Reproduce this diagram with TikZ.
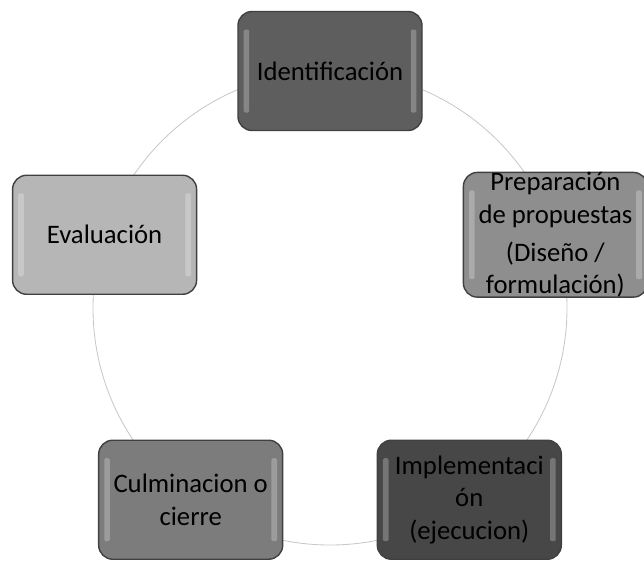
\documentclass[tikz,border=0pt]{standalone}
\usepackage{fontspec}
\setmainfont{Carlito}
\usepackage{tikz}
\usepackage{xcolor}
\usetikzlibrary{positioning}

\definecolor{grisIdent}{HTML}{5E5E5E}
\definecolor{grisPrep}{HTML}{8E8E8E}
\definecolor{grisEval}{HTML}{B6B6B6}
\definecolor{grisImpl}{HTML}{474747}
\definecolor{grisCulm}{HTML}{7C7C7C}
\definecolor{grisCirc}{HTML}{C8C8C8}

\begin{document}
\begin{tikzpicture}[
    etapa/.style={draw=black!75, line width=1pt, rounded corners=0.35cm,
        minimum width=4.6cm, minimum height=2.975cm, text width=4.5cm,
        align=flush center, inner sep=0pt, text=black,
        font=\fontsize{19}{23}\selectfont,
        path picture={
            \fill[white, fill opacity=0.25, rounded corners=1pt]
                ([xshift=0.14cm, yshift=-0.45cm]path picture bounding box.north west)
                rectangle ([xshift=0.28cm, yshift=0.45cm]path picture bounding box.south west);
            \fill[white, fill opacity=0.25, rounded corners=1pt]
                ([xshift=-0.28cm, yshift=-0.45cm]path picture bounding box.north east)
                rectangle ([xshift=-0.14cm, yshift=0.45cm]path picture bounding box.south east);
        }}
]
    \useasboundingbox (0, 0) rectangle (16.1, -14.05);
    \begin{scope}[shift={(8.25, -7.7)}]
        \coordinate (centro) at (0, 0);
        \draw[grisCirc, line width=0.6pt] (centro) circle (5.925);
        \node[etapa, fill=grisIdent] (ident) at (90:5.925) {Identificación};
        \node[etapa, fill=grisPrep] (prep) at (18:5.925)
            {Preparación\\de propuestas\\[4pt](Diseño /\\formulación)};
        \node[etapa, fill=grisImpl] (impl) at (-54:5.925)
            {Implementaci\\ón\\(ejecucion)};
        \node[etapa, fill=grisCulm] (culm) at (-126:5.925)
            {Culminacion o\\cierre};
        \node[etapa, fill=grisEval] (eval) at (162:5.925) {Evaluación};
    \end{scope}
\end{tikzpicture}
\end{document}
